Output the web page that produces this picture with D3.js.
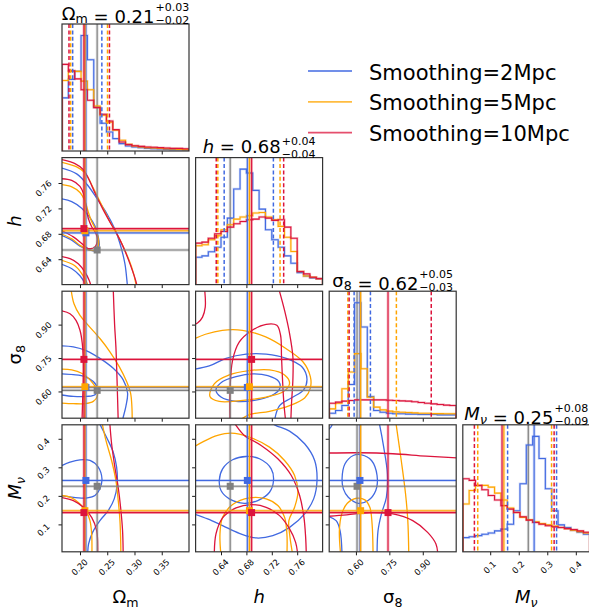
<!DOCTYPE html>
<html><head><meta charset="utf-8">
<script src="https://cdn.jsdelivr.net/npm/d3@7"></script>
<style>
body{margin:0;background:#fff;}
svg{display:block;}
text{font-family:"DejaVu Sans",sans-serif;fill:#000;}
</style>
</head><body>
<svg id="c" width="589" height="612"></svg>
<script>
// ---------------- DATA ----------------
const domOm = [0.167, 0.4], domH = [0.6, 0.8], domS8 = [0.48, 1.05], domMnu = [0.004, 0.449];
const ticksOm = [0.20, 0.25, 0.30, 0.35];
const ticksH = [0.64, 0.68, 0.72, 0.76];
const ticksS8 = [0.60, 0.75, 0.90];
const ticksMnu = [0.1, 0.2, 0.3, 0.4];

const seriesNames = ["Smoothing=2Mpc", "Smoothing=5Mpc", "Smoothing=10Mpc"];
const seriesColors = ["#4169E1", "#FFA500", "#DC143C"];
const truthColor = "#808080";

// parameter order: Omega_m, h, sigma_8, M_nu
const truthValues = [0.2315, 0.6545, 0.605, 0.2335];
const median2  = [0.2109, 0.6815, 0.618, 0.254];
const median5  = [0.2090, 0.6848, 0.621, 0.148];
const median10 = [0.2072, 0.6882, 0.744, 0.1414];
const lower2  = [0.1866, 0.645, 0.5918, 0.161];
const lower5  = [0.1829, 0.635, 0.5637, 0.0564];
const lower10 = [0.1798, 0.6325, 0.5695, 0.0446];
const upper2  = [0.2401, 0.7225, 0.665, 0.3326];
const upper5  = [0.2505, 0.733, 0.7815, 0.315];
const upper10 = [0.2541, 0.7387, 0.938, 0.324];

// 1D histograms, 20 bins over each axis range (relative heights)
const histOm2  = [46,62,69,100,79,38,24,16.5,10.7,6.4,4.3,3.5,2.9,2.3,2,1.7,1.4,1.2,1.2,0.9];
const histOm5  = [61,69,69,60.5,53,39,31,25,18,9.3,5.8,4.3,3.5,2.9,2.6,2.3,2,1.7,1.4,1.2];
const histOm10 = [75,69.5,62.5,53,44,37.6,31.8,26,18.5,7.8,5.5,4.6,4,3.5,3.2,2.9,2.6,2.3,2.3,2];
const histH2  = [23.7,24.9,28.4,32.4,41,57.6,82.8,100,96.7,81.6,65.4,47.5,38.8,32.4,24.9,18.5,10.4,7.5,5.8,5.2];
const histH5  = [33.6,34.5,38.8,42.3,47.5,51.8,56.7,58.5,59.6,62,62.5,58.5,56.2,50.4,41,28.7,11.3,7.5,6.4,5.2];
const histH10 = [35.9,36.8,40.2,44,46,49.8,52.7,54.7,56.2,56.7,58.5,57.6,55.6,56.2,49.8,40.2,11.3,9.3,6.4,5.2];
const histS8_2  = [4.3,6.7,11,29.2,100,79,18.8,6.7,5.2,4.3,3.8,3.8,3.5,3.5,3.2,3.2,3.2,2.9,2.9,2.9];
const histS8_5  = [8.1,13,25.5,40,55.9,42.8,18.2,9.6,7.2,6.1,5.5,5.2,4.9,4.6,4.3,4.3,4,4,3.8,3.8];
const histS8_10 = [13,13.9,14.8,15.3,15.9,15.9,15.9,15.9,15.9,15.6,15.3,15,14.8,14.2,13.6,13,12.4,11.9,11.3,11];
const histMnu2  = [12.3,13.1,14,15.2,16.3,18.1,19.6,23.9,35.6,58.9,92.5,100,80.8,54.6,35.6,23.3,21,18.7,16.9,15.2];
const histMnu5  = [41.4,53.1,57.2,57.5,56,50.8,44.9,37.9,34.1,29.8,27.7,26,24.5,23.3,22.2,21,20.1,18.7,17.5,16.3];
const histMnu10 = [63.3,61.9,57.5,53.7,48.7,44.9,40,37,34.1,30.3,27.4,25.4,23.9,22.5,21.6,21,20.1,19.3,18.1,16.9];

// 2D contour lines [x, y] in parameter units (loops repeat their first point)
const contours_h_Om_2 = [
  [[0.160,0.785],[0.1939,0.7743],[0.2134,0.7573],[0.2306,0.7362],[0.2489,0.7124],[0.2641,0.687],[0.2733,0.6648],[0.2824,0.633],[0.2867,0.6013],[0.288,0.59]],
  [[0.160,0.736],[0.1848,0.7308],[0.2031,0.7203],[0.217,0.707],[0.2275,0.6922],[0.2335,0.6752],[0.2353,0.6621],[0.2306,0.653],[0.2152,0.6552],[0.2,0.6605],[0.1848,0.67],[0.160,0.680]],
  [[0.160,0.634],[0.185,0.625],[0.2,0.614],[0.21,0.6],[0.213,0.59]]
];
const contours_h_Om_5 = [
  [[0.160,0.794],[0.1939,0.7854],[0.2092,0.7759],[0.2214,0.7573],[0.2366,0.7308],[0.2549,0.699],[0.2672,0.6806],[0.2824,0.6541],[0.2947,0.6276],[0.3026,0.6013],[0.304,0.59]],
  [[0.160,0.758],[0.185,0.754],[0.2,0.745],[0.209,0.732],[0.215,0.715],[0.221,0.7],[0.228,0.688],[0.233,0.675],[0.234,0.663],[0.229,0.654],[0.215,0.655],[0.2,0.662],[0.185,0.672],[0.160,0.682]],
  [[0.160,0.640],[0.19,0.63],[0.205,0.615],[0.214,0.6],[0.216,0.59]]
];
const contours_h_Om_10 = [
  [[0.160,0.798],[0.1908,0.7906],[0.206,0.7811],[0.2152,0.7679],[0.2275,0.7441],[0.2427,0.7176],[0.2581,0.6938],[0.2672,0.6806],[0.2793,0.6594],[0.2916,0.633],[0.3038,0.6013],[0.305,0.59]],
  [[0.160,0.767],[0.1848,0.7641],[0.2,0.7546],[0.2073,0.7414],[0.211,0.7229],[0.2152,0.7044],[0.2214,0.6911],[0.2293,0.6806],[0.2317,0.67],[0.2275,0.6594],[0.2152,0.6568],[0.2031,0.6648],[0.1877,0.6752],[0.160,0.688]],
  [[0.160,0.645],[0.1817,0.6409],[0.1969,0.633],[0.2092,0.6197],[0.217,0.6065],[0.2196,0.599],[0.22,0.59]]
];
const contours_s8_Om_2 = [
  [[0.160,0.805],[0.1878,0.8003],[0.2123,0.7825],[0.2366,0.7486],[0.261,0.7041],[0.2793,0.6521],[0.2873,0.5929],[0.2842,0.5333],[0.2793,0.4843],[0.278,0.47]],
  [[0.160,0.680],[0.1878,0.6757],[0.2092,0.6668],[0.2244,0.6445],[0.2317,0.6151],[0.2275,0.5853],[0.2123,0.5778],[0.1878,0.5778],[0.160,0.587]]
];
const contours_s8_Om_5 = [
  [[0.1835,1.06],[0.189,0.9934],[0.2,0.9413],[0.2152,0.8968],[0.2366,0.8376],[0.2549,0.778],[0.272,0.7113],[0.2855,0.6445],[0.2928,0.5929],[0.2952,0.5333],[0.2958,0.47]],
  [[0.160,0.701],[0.1848,0.6966],[0.2031,0.6819],[0.2183,0.652],[0.2306,0.6076],[0.2317,0.5778],[0.2244,0.5555],[0.2092,0.5453],[0.1878,0.5453],[0.160,0.549]]
];
const contours_s8_Om_10 = [
  [[0.160,0.965],[0.1817,0.9489],[0.1927,0.9191],[0.2,0.8746],[0.2042,0.8154],[0.206,0.7411],[0.206,0.652],[0.2049,0.563],[0.2037,0.47]],
  [[0.261,1.06],[0.2635,0.9],[0.2659,0.80],[0.268,0.65],[0.2701,0.47]]
];
const contours_Mnu_Om_2 = [
  [[0.2340,0.46],[0.25,0.4],[0.261,0.3531],[0.2672,0.3005],[0.2683,0.2421],[0.2628,0.1895],[0.2518,0.1484],[0.2366,0.1132],[0.2231,0.0721],[0.2158,0.0314],[0.214,-0.01]],
  [[0.160,0.300],[0.1817,0.318],[0.2,0.3264],[0.2183,0.324],[0.2335,0.3005],[0.2403,0.2597],[0.2366,0.2246],[0.2275,0.2011],[0.2134,0.193],[0.1969,0.193],[0.1786,0.1975],[0.160,0.202]]
];
const contours_Mnu_Om_5 = [
  [[0.2400,0.46],[0.2476,0.3942],[0.258,0.324],[0.2659,0.2537],[0.2702,0.1835],[0.2733,0.1132],[0.2745,0.0546],[0.2751,-0.01]],
  [[0.160,0.203],[0.1848,0.193],[0.2,0.1719],[0.211,0.1484],[0.2183,0.1132],[0.2214,0.0665],[0.2219,-0.01]]
];
const contours_Mnu_Om_10 = [
  [[0.2545,0.46],[0.258,0.3826],[0.264,0.3005],[0.2701,0.2302],[0.2745,0.16],[0.2781,0.0781],[0.2793,-0.01]],
  [[0.160,0.196],[0.1878,0.1835],[0.206,0.16],[0.2214,0.1248],[0.2306,0.0781],[0.2324,-0.01]]
];
const contours_s8_h_2 = [
  [[0.590,0.696],[0.6215,0.7144],[0.6479,0.7486],[0.6795,0.7678],[0.7111,0.7678],[0.7428,0.7486],[0.7681,0.7086],[0.7754,0.6552],[0.7701,0.6076],[0.7507,0.5706],[0.7322,0.5364],[0.7243,0.47]],
  [[0.6321,0.6076],[0.6426,0.6445],[0.6637,0.6668],[0.69,0.6788],[0.7137,0.6712],[0.7311,0.6445],[0.7322,0.6107],[0.719,0.5808],[0.6926,0.56],[0.6637,0.5555],[0.64,0.575],[0.6321,0.6076]]
];
const contours_s8_h_5 = [
  [[0.590,0.826],[0.6155,0.8568],[0.6421,0.8746],[0.6737,0.8746],[0.7104,0.8448],[0.7421,0.7931],[0.769,0.7335],[0.7807,0.6668],[0.7807,0.6151],[0.7717,0.5706],[0.748,0.5364],[0.7164,0.511],[0.6847,0.4963],[0.6689,0.47]],
  [[0.6226,0.5778],[0.6294,0.6343],[0.6531,0.6743],[0.6847,0.6935],[0.7164,0.6966],[0.7401,0.6743],[0.748,0.6373],[0.7385,0.6],[0.7111,0.575],[0.6742,0.56],[0.6373,0.5555],[0.6226,0.5778]]
];
const contours_s8_h_10 = [
  [[0.6142,1.06],[0.6152,0.9783],[0.6109,0.9338],[0.603,0.9071],[0.590,0.893]],
  [[0.6542,0.47],[0.6542,0.6076],[0.6583,0.7411],[0.6689,0.8225],[0.6874,0.8715],[0.7111,0.9013],[0.7279,0.8968],[0.7338,0.8523],[0.7353,0.7558],[0.7369,0.6521],[0.739,0.5484],[0.7417,0.47]],
  [[0.7311,1.06],[0.7401,0.9636],[0.748,0.8599],[0.7532,0.7558],[0.7532,0.6521],[0.7511,0.5484],[0.75,0.47]]
];
const contours_Mnu_h_2 = [
  [[0.6373,0.2537],[0.6425,0.2948],[0.6583,0.3264],[0.6795,0.338],[0.7006,0.33],[0.7191,0.2948],[0.7227,0.2537],[0.7164,0.2127],[0.6979,0.1835],[0.6768,0.174],[0.6531,0.1895],[0.64,0.2186],[0.6373,0.2537]],
  [[0.716,0.46],[0.7259,0.4469],[0.748,0.4269],[0.7717,0.3826],[0.7875,0.324],[0.7912,0.2537],[0.7859,0.1895],[0.7717,0.1368],[0.748,0.0897],[0.7216,0.0606],[0.6953,0.0525],[0.6689,0.0686],[0.6425,0.0957],[0.6189,0.1192],[0.590,0.142]]
];
const contours_Mnu_h_5 = [
  [[0.590,0.362],[0.6136,0.3918],[0.6346,0.4118],[0.6558,0.4199],[0.6847,0.4058],[0.7164,0.3707],[0.7401,0.324],[0.7559,0.2713],[0.7611,0.2127],[0.7559,0.16],[0.7469,0.1132],[0.748,0.0665],[0.7532,-0.01]],
  [[0.64,-0.01],[0.6384,0.0665],[0.6425,0.1248],[0.6583,0.1694],[0.6847,0.193],[0.7111,0.1895],[0.7295,0.166],[0.7401,0.1248],[0.7438,0.0665],[0.7438,-0.01]]
];
const contours_Mnu_h_10 = [
  [[0.6294,-0.01],[0.6321,0.0665],[0.6425,0.1227],[0.6637,0.1579],[0.6874,0.1694],[0.7111,0.16],[0.7322,0.1308],[0.748,0.0841],[0.7575,0.037],[0.7611,-0.01]],
  [[0.66,0.46],[0.6637,0.4469],[0.6768,0.4118],[0.7032,0.3767],[0.7295,0.33],[0.7507,0.2713],[0.7638,0.2011],[0.7706,0.1248],[0.7733,0.0546],[0.7744,-0.01]]
];
const contours_Mnu_s8_2 = [
  [[0.5377,0.2597],[0.551,0.3124],[0.588,0.3415],[0.6254,0.344],[0.6699,0.324],[0.6948,0.2713],[0.689,0.2186],[0.6547,0.1835],[0.6102,0.174],[0.5657,0.1951],[0.5435,0.2246],[0.5377,0.2597]],
  [[0.703,0.46],[0.7068,0.4469],[0.7246,0.3707],[0.7411,0.2773],[0.7366,0.1951],[0.7144,0.1368],[0.6992,0.0781],[0.6948,-0.01]],
  [[0.47,0.13],[0.511,0.1132],[0.5288,0.0781],[0.5377,-0.01]],
  [[0.47,0.43],[0.4812,0.4353],[0.4919,0.4469],[0.495,0.46]]
];
const contours_Mnu_s8_5 = [
  [[0.5319,-0.01],[0.5257,0.0781],[0.5364,0.1368],[0.5613,0.174],[0.6031,0.1916],[0.6401,0.186],[0.6623,0.16],[0.6725,0.1016],[0.677,-0.01]],
  [[0.779,0.46],[0.7811,0.4469],[0.8034,0.324],[0.8225,0.2081],[0.8328,0.1132],[0.8373,-0.01]]
];
const contours_Mnu_s8_10 = [
  [[0.47,0.35],[0.6178,0.351],[0.766,0.3475],[0.9146,0.3392],[1.06,0.333]],
  [[0.47,0.128],[0.5586,0.1333],[0.6623,0.1413],[0.766,0.1368],[0.855,0.1132],[0.9218,0.0721],[0.9591,0.0314],[0.968,-0.01]]
];

// ---------------- LAYOUT / DRAW ----------------
const svg = d3.select("#c");
const L0 = 62, T0 = 24, STEP = 133.6, SIZE = 127;
const domains = [domOm, domH, domS8, domMnu];
const tickSets = [ticksOm, ticksH, ticksS8, ticksMnu];
const tickFmt = [d3.format(".2f"), d3.format(".2f"), d3.format(".2f"), d3.format(".1f")];
const medians = [median2, median5, median10];
const lowers = [lower2, lower5, lower10];
const uppers = [upper2, upper5, upper10];
const hists = [[histOm2, histOm5, histOm10], [histH2, histH5, histH10], [histS8_2, histS8_5, histS8_10], [histMnu2, histMnu5, histMnu10]];
const contourTable = {
  "1_0": [contours_h_Om_2, contours_h_Om_5, contours_h_Om_10],
  "2_0": [contours_s8_Om_2, contours_s8_Om_5, contours_s8_Om_10],
  "3_0": [contours_Mnu_Om_2, contours_Mnu_Om_5, contours_Mnu_Om_10],
  "2_1": [contours_s8_h_2, contours_s8_h_5, contours_s8_h_10],
  "3_1": [contours_Mnu_h_2, contours_Mnu_h_5, contours_Mnu_h_10],
  "3_2": [contours_Mnu_s8_2, contours_Mnu_s8_5, contours_Mnu_s8_10]
};

svg.append("rect").attr("width", 589).attr("height", 612).attr("fill", "#fff");
const defs = svg.append("defs");

function xS(j) { const l = L0 + j * STEP; return d3.scaleLinear().domain(domains[j]).range([l, l + SIZE]); }
function yS(i) { const t = T0 + i * STEP; return d3.scaleLinear().domain(domains[i]).range([t + SIZE, t]); }

function shadedLine(g, x1, y1, x2, y2, color, dashed) {
  if (dashed) {
    g.append("line").attr("x1", x1).attr("y1", y1).attr("x2", x2).attr("y2", y2)
      .attr("stroke", color).attr("stroke-width", 1.5).attr("stroke-dasharray", "4,2.4");
  } else {
    g.append("line").attr("x1", x1).attr("y1", y1).attr("x2", x2).attr("y2", y2)
      .attr("stroke", color).attr("stroke-width", 2.8).attr("stroke-opacity", 0.3);
    g.append("line").attr("x1", x1).attr("y1", y1).attr("x2", x2).attr("y2", y2)
      .attr("stroke", color).attr("stroke-width", 1.1);
  }
}

for (let i = 0; i < 4; i++) {
  for (let j = 0; j <= i; j++) {
    const x = xS(j);
    const l = L0 + j * STEP, t = T0 + i * STEP;
    const id = `clip${i}${j}`;
    defs.append("clipPath").attr("id", id).append("rect").attr("x", l).attr("y", t).attr("width", SIZE).attr("height", SIZE);
    const g = svg.append("g");
    const gc = g.append("g").attr("clip-path", `url(#${id})`);

    if (i === j) {
      const hy = d3.scaleLinear().domain([0, 110]).range([t + SIZE, t]);
      const dom = domains[i];
      const edges = d3.range(21).map(k => dom[0] + k * (dom[1] - dom[0]) / 20);
      shadedLine(gc, x(truthValues[i]), t, x(truthValues[i]), t + SIZE, truthColor, false);
      hists[i].forEach((h, s) => {
        const pts = [[edges[0], 0]];
        h.forEach((v, k) => { pts.push([edges[k], v]); pts.push([edges[k + 1], v]); });
        pts.push([edges[20], 0]);
        const line = d3.line().x(d => x(d[0])).y(d => hy(d[1]));
        gc.append("path").attr("d", line(pts)).attr("fill", "none").attr("stroke", seriesColors[s])
          .attr("stroke-width", 2.4).attr("stroke-opacity", 0.28);
        gc.append("path").attr("d", line(pts)).attr("fill", "none").attr("stroke", seriesColors[s])
          .attr("stroke-width", 1.1);
      });
      [0, 1, 2].forEach(s => {
        shadedLine(gc, x(medians[s][i]), t, x(medians[s][i]), t + SIZE, seriesColors[s], false);
        shadedLine(gc, x(lowers[s][i]), t, x(lowers[s][i]), t + SIZE, seriesColors[s], true);
        shadedLine(gc, x(uppers[s][i]), t, x(uppers[s][i]), t + SIZE, seriesColors[s], true);
      });
    } else {
      const y = yS(i);
      const cs = contourTable[`${i}_${j}`];
      cs.forEach((lines, s) => {
        lines.forEach(pts => {
          const closed = pts.length > 2 && pts[0][0] === pts[pts.length - 1][0] && pts[0][1] === pts[pts.length - 1][1];
          const p = closed ? pts.slice(0, -1) : pts;
          const line = d3.line().x(d => x(d[0])).y(d => y(d[1]))
            .curve(closed ? d3.curveCatmullRomClosed : d3.curveCatmullRom);
          gc.append("path").attr("d", line(p)).attr("fill", "none")
            .attr("stroke", seriesColors[s]).attr("stroke-width", 1.3);
        });
      });
      shadedLine(gc, x(truthValues[j]), t, x(truthValues[j]), t + SIZE, truthColor, false);
      shadedLine(gc, l, y(truthValues[i]), l + SIZE, y(truthValues[i]), truthColor, false);
      [0, 1, 2].forEach(s => {
        shadedLine(gc, x(medians[s][j]), t, x(medians[s][j]), t + SIZE, seriesColors[s], false);
        shadedLine(gc, l, y(medians[s][i]), l + SIZE, y(medians[s][i]), seriesColors[s], false);
      });
      const ms = 7;
      gc.append("rect").attr("x", x(truthValues[j]) - ms / 2).attr("y", y(truthValues[i]) - ms / 2)
        .attr("width", ms).attr("height", ms).attr("fill", truthColor);
      [0, 1, 2].forEach(s => {
        gc.append("rect").attr("x", x(medians[s][j]) - ms / 2).attr("y", y(medians[s][i]) - ms / 2)
          .attr("width", ms).attr("height", ms).attr("fill", seriesColors[s]);
      });
      const ya = d3.axisLeft(y).tickValues(tickSets[i]).tickSize(3.5).tickPadding(0)
        .tickFormat(j === 0 ? tickFmt[i] : "");
      const yg = g.append("g").attr("transform", `translate(${l},0)`).call(ya);
      yg.select(".domain").remove();
      yg.selectAll("line").attr("stroke", "#000").attr("stroke-width", 0.9);
      yg.selectAll("text").attr("x", 0).attr("y", 0).attr("dy", "0.35em")
        .attr("text-anchor", "middle").attr("font-size", 8.5).attr("font-family", "DejaVu Sans")
        .attr("fill", "#000").attr("transform", "translate(-18.5,5) rotate(-45)");
    }
    const xa = d3.axisBottom(x).tickValues(tickSets[j]).tickSize(3.5).tickPadding(0)
      .tickFormat(i === 3 ? tickFmt[j] : "");
    const xg = g.append("g").attr("transform", `translate(0,${t + SIZE})`).call(xa);
    xg.select(".domain").remove();
    xg.selectAll("line").attr("stroke", "#000").attr("stroke-width", 0.9);
    xg.selectAll("text").attr("x", 0).attr("y", 0).attr("dy", "0.35em")
      .attr("text-anchor", "middle").attr("font-size", 8.5).attr("font-family", "DejaVu Sans")
      .attr("fill", "#000").attr("transform", "translate(-1,15.5) rotate(-45)");
    g.append("rect").attr("x", l).attr("y", t).attr("width", SIZE).attr("height", SIZE)
      .attr("fill", "none").attr("stroke", "#333").attr("stroke-width", 1.2);
  }
}

// ---------------- SYMBOLS / TITLES / LABELS ----------------
const symbolParts = [
  t => { t.append("tspan").text("Ω"); t.append("tspan").attr("font-size", "0.7em").attr("dy", 3.5).text("m"); t.append("tspan").attr("dy", -3.5).text(""); },
  t => { t.append("tspan").attr("font-style", "italic").text("h"); },
  t => { t.append("tspan").text("σ"); t.append("tspan").attr("font-size", "0.7em").attr("dy", 3.5).text("8"); t.append("tspan").attr("dy", -3.5).text(""); },
  t => { t.append("tspan").attr("font-style", "italic").text("M"); t.append("tspan").attr("font-size", "0.7em").attr("font-style", "italic").attr("dy", 3.5).text("ν"); t.append("tspan").attr("dy", -3.5).text(""); }
];

for (let j = 0; j < 4; j++) {
  const cx = L0 + j * STEP + SIZE / 2, by = T0 + j * STEP - 4.5;
  const g = svg.append("g");
  const t = g.append("text").attr("font-size", 18).attr("x", 0).attr("y", 0);
  symbolParts[j](t);
  const med = median2[j];
  t.append("tspan").text(" = " + d3.format(".2f")(med));
  const w = t.node().getComputedTextLength();
  const sp = g.append("text").attr("x", w + 1).attr("y", -8.6).attr("font-size", 11)
    .text("+" + (uppers[0][j] - med).toFixed(2));
  const sb = g.append("text").attr("x", w + 1).attr("y", 4.6).attr("font-size", 11)
    .text("\u2212" + (med - lowers[0][j]).toFixed(2));
  const tw = w + 1 + Math.max(sp.node().getComputedTextLength(), sb.node().getComputedTextLength());
  g.attr("transform", `translate(${cx - tw / 2},${by})`);

  const bl = svg.append("text").attr("font-size", 18).attr("text-anchor", "middle")
    .attr("x", cx).attr("y", 603);
  symbolParts[j](bl);
}
for (let i = 1; i < 4; i++) {
  const cy = T0 + i * STEP + SIZE / 2;
  const ll = svg.append("text").attr("font-size", 18).attr("text-anchor", "middle")
    .attr("transform", `translate(21,${cy}) rotate(-90)`);
  symbolParts[i](ll);
}

// ---------------- LEGEND ----------------
seriesNames.forEach((name, s) => {
  const ly = 71 + s * 30.8;
  svg.append("line").attr("x1", 308).attr("x2", 352).attr("y1", ly).attr("y2", ly)
    .attr("stroke", seriesColors[s]).attr("stroke-width", 1.8).attr("stroke-opacity", 0.75);
  svg.append("text").attr("x", 369).attr("y", ly + 8.5).attr("font-size", 21).text(name);
});
</script>
</body></html>
